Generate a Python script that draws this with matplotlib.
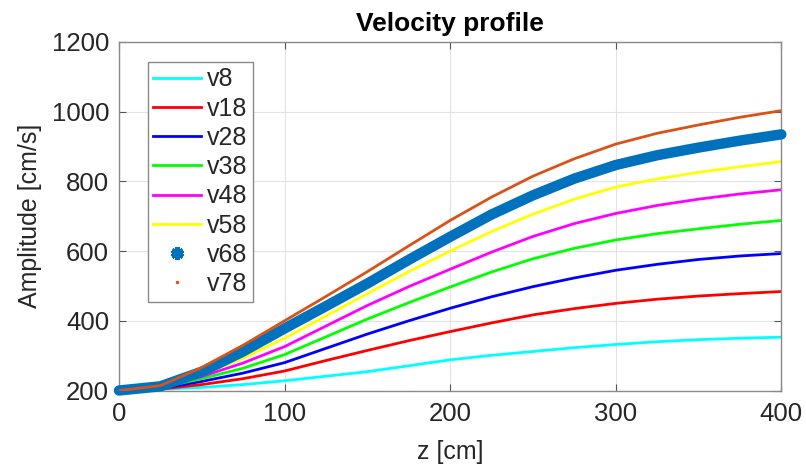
import numpy as np
import matplotlib
matplotlib.use('Agg')
import matplotlib.pyplot as plt
from matplotlib.lines import Line2D

plt.rcParams['font.family'] = ['Liberation Sans', 'DejaVu Sans']

# Values (every 25 cm).
z = [0, 25, 50, 75, 100, 125, 150, 175, 200, 225, 250, 275, 300, 325, 350, 375, 400]
v8 = [200, 203, 209, 217, 228, 241, 254, 271, 288, 301, 312, 323, 332, 340, 346, 350, 353]
v18 = [200, 204, 217, 234, 256, 286, 315, 343, 369, 394, 417, 435, 450, 462, 471, 478, 484]
v28 = [200, 206, 226, 250, 280, 321, 362, 400, 436, 469, 498, 523, 545, 562, 576, 586, 593]
v38 = [200, 208, 234, 264, 303, 354, 405, 452, 497, 540, 578, 608, 632, 650, 664, 677, 688]
v48 = [200, 210, 240, 279, 326, 385, 444, 498, 548, 597, 642, 679, 708, 731, 749, 764, 776]
v58 = [200, 212, 246, 293, 350, 414, 478, 541, 600, 656, 706, 749, 784, 807, 826, 842, 857]
v68 = [200, 212, 254, 312, 378, 442, 507, 575, 641, 705, 760, 808, 847, 875, 897, 917, 935]
v78 = [200, 214, 266, 330, 400, 470, 541, 615, 688, 755, 815, 865, 907, 938, 962, 984, 1003]

labels = ['v8', 'v18', 'v28', 'v38', 'v48', 'v58', 'v68', 'v78']
line_series = [v8, v18, v28, v38, v48, v58]
line_colors = ['#00FFFF', '#FF0000', '#0000FF', '#00FF00', '#FF00FF', '#FFFF00']
c68 = '#0072BD'
c78 = '#D95319'

fig = plt.figure(figsize=(8.06, 4.65), dpi=100)
ax = fig.add_axes([0.1476, 0.1602, 0.8218, 0.7495])

handles = []
for ys, c, lab in zip(line_series, line_colors, labels):
    h, = ax.plot(z, ys, color=c, lw=2.0, label=lab)
    handles.append(h)

# v68 was drawn with dense star markers -> thick band
ax.plot(z, v68, color=c68, lw=7.5, solid_capstyle='round', solid_joinstyle='round',
        clip_on=False, zorder=3)
handles.append(Line2D([], [], ls='none', marker=(6, 2, 0), ms=9, mew=3.5,
                      color=c68, label='v68'))
# v78 was drawn with dense dot markers -> thin line
ax.plot(z, v78, color=c78, lw=2.0, zorder=4)
handles.append(Line2D([], [], ls='none', marker='.', ms=3, color=c78, label='v78'))

ax.set_xlim(0, 400)
ax.set_ylim(200, 1200)
ax.set_xticks([0, 100, 200, 300, 400])
ax.set_yticks([200, 400, 600, 800, 1000, 1200])
ax.grid(True, color='#e3e3e3', lw=0.8)
ax.set_axisbelow(True)
for s in ax.spines.values():
    s.set_color('#8a8a8a')
    s.set_linewidth(1.0)
ax.tick_params(direction='in', length=5, width=0.8, color='#555555',
               top=True, right=True, labelsize=18.5, labelcolor='#262626')
ax.tick_params(axis='x', pad=8)
ax.tick_params(axis='y', pad=7)

ax.set_xlabel('z [cm]', fontsize=18, color='#262626', labelpad=10)
ax.set_ylabel('Amplitude [cm/s]', fontsize=18, color='#262626', labelpad=7)
ax.set_title('Velocity profile', fontsize=19, fontweight='bold', pad=8)

leg = ax.legend(handles=handles, loc='upper left', bbox_to_anchor=(0.0438, 0.9426),
                borderaxespad=0, fontsize=18, frameon=True, fancybox=False,
                handlelength=1.9, handletextpad=0.25, labelspacing=0.21,
                borderpad=0.22, framealpha=1)
leg.get_frame().set_edgecolor('#8a8a8a')
leg.get_frame().set_linewidth(1.0)
for t in leg.get_texts():
    t.set_color('#262626')

fig.savefig('out.png', dpi=100)
